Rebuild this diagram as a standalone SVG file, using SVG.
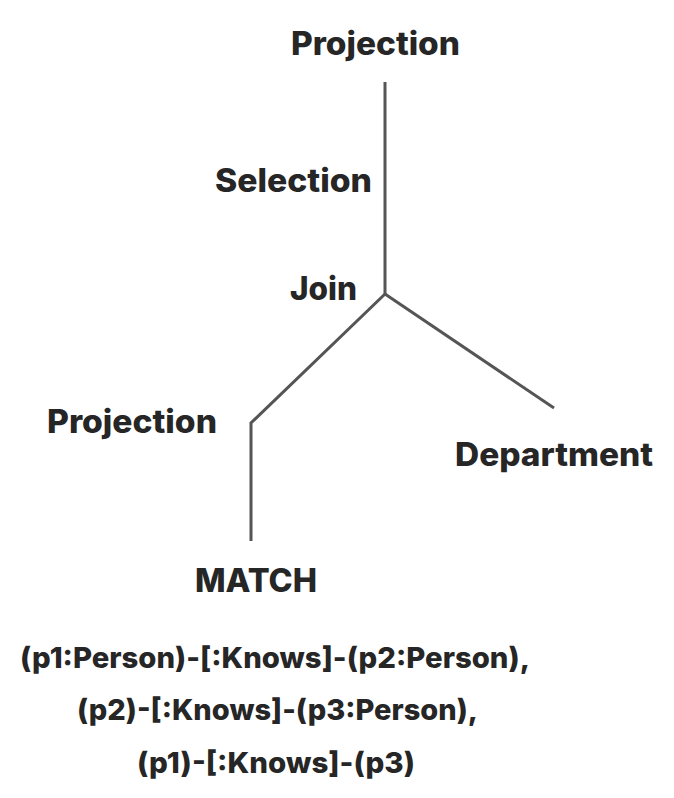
<svg xmlns="http://www.w3.org/2000/svg" width="674" height="798" viewBox="0 0 674 798">
<style>
.lbl{font-family:Inter,"Liberation Sans",Arial,sans-serif;font-weight:800;font-size:32px;fill:#262626}
.code{font-family:Inter,"Liberation Sans",Arial,sans-serif;font-weight:800;font-size:29px;fill:#262626}
.edge{stroke:#555;stroke-width:3;fill:none;stroke-linejoin:miter}
</style>
<rect width="674" height="798" fill="#fff"/>
<g id="connectors">
<line class="edge" x1="385" y1="82" x2="385" y2="176"/>
<line class="edge" x1="385" y1="176" x2="385" y2="294"/>
<polyline class="edge" points="385,294 251,423 251,541"/>
<line class="edge" x1="385" y1="294" x2="554" y2="408"/>
</g>
<g id="projection-top"><text class="lbl" x="291" y="55" textLength="169" lengthAdjust="spacingAndGlyphs">Projection</text></g>
<g id="selection"><text class="lbl" x="215" y="192" textLength="157" lengthAdjust="spacingAndGlyphs">Selection</text></g>
<g id="join"><text class="lbl" x="290" y="300" textLength="67" lengthAdjust="spacingAndGlyphs">Join</text></g>
<g id="projection-left"><text class="lbl" x="47" y="433" textLength="170" lengthAdjust="spacingAndGlyphs">Projection</text></g>
<g id="department"><text class="lbl" x="455" y="466" textLength="198" lengthAdjust="spacingAndGlyphs">Department</text></g>
<g id="match">
<text class="lbl" x="195" y="592" textLength="122" lengthAdjust="spacingAndGlyphs">MATCH</text>
<text class="code" x="20" y="668" textLength="510" lengthAdjust="spacingAndGlyphs">(p1:Person)-[:Knows]-(p2:Person),</text>
<text class="code" x="77" y="720" textLength="401" lengthAdjust="spacingAndGlyphs">(p2)-[:Knows]-(p3:Person),</text>
<text class="code" x="137" y="773" textLength="278" lengthAdjust="spacingAndGlyphs">(p1)-[:Knows]-(p3)</text>
</g>
</svg>
